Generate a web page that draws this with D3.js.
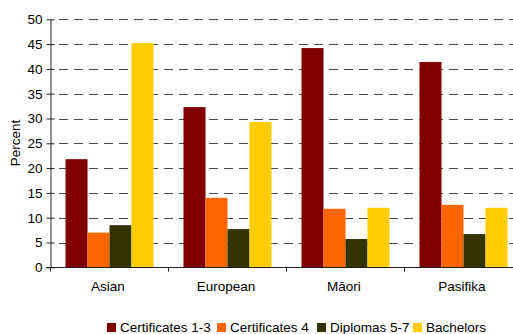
<!DOCTYPE html>
<html>
<head>
<meta charset="utf-8">
<script src="https://cdn.jsdelivr.net/npm/d3@7"></script>
<style>
  body { margin: 0; background: #fff; }
  text { font-family: "Liberation Sans", Arial, sans-serif; fill: #000; }
</style>
</head>
<body>
<div id="chart"></div>
<script>
var groups = ["Asian", "European", "Māori", "Pasifika"];
var seriesNames = ["Certificates 1-3", "Certificates 4", "Diplomas 5-7", "Bachelors"];
var seriesColors = ["#800000", "#ff6600", "#333300", "#ffcc00"];
// values per series, in the order of groups
var cert13 = [21.8, 32.3, 44.2, 41.4];
var cert4 = [7.0, 14.0, 11.8, 12.6];
var dipl57 = [8.5, 7.7, 5.7, 6.7];
var bachelors = [45.2, 29.3, 12.0, 12.0];
var yTicks = [0, 5, 10, 15, 20, 25, 30, 35, 40, 45, 50];

var allSeries = [cert13, cert4, dipl57, bachelors];

var width = 513, height = 334;
var fontSize = "13.5px";
var svg = d3.select("#chart").append("svg")
  .attr("width", width)
  .attr("height", height);

var x0 = d3.scaleBand().domain(groups).range([50, 522]).paddingInner(0).paddingOuter(0);
var x1 = d3.scaleBand().domain(seriesNames).range([15.5, x0.bandwidth() - 14.5]);
var y = d3.scaleLinear().domain([0, 50]).range([267.3, 19.3]);

// gridlines
svg.append("g")
  .selectAll("line")
  .data(yTicks.slice(1))
  .enter().append("line")
  .attr("x1", 55)
  .attr("x2", 522)
  .attr("y1", function(d) { return Math.round(y(d)) + 0.5; })
  .attr("y2", function(d) { return Math.round(y(d)) + 0.5; })
  .attr("stroke", "#4a4a4a")
  .attr("stroke-width", 1)
  .attr("stroke-dasharray", "9,6")
  .attr("stroke-dashoffset", -4);

// bars
for (let s = 0; s < allSeries.length; s++) {
  svg.append("g")
    .selectAll("rect")
    .data(allSeries[s])
    .enter().append("rect")
    .attr("x", function(d, i) { return x0(groups[i]) + x1(seriesNames[s]); })
    .attr("y", function(d) { return y(d); })
    .attr("width", x1.bandwidth())
    .attr("height", function(d) { return y(0) - y(d); })
    .attr("fill", seriesColors[s]);
}

// y axis, ticks cross the axis line
var yAxis = svg.append("g")
  .attr("transform", "translate(50.5,0)")
  .call(d3.axisLeft(y).tickValues(yTicks).tickSize(4).tickSizeOuter(0));
yAxis.select(".domain").attr("stroke", "#222");
yAxis.selectAll(".tick line").attr("stroke", "#222").attr("x2", 4).attr("x1", -4);
yAxis.selectAll(".tick text")
  .attr("x", -8)
  .style("font-size", fontSize)
  .style("font-family", "Liberation Sans, Arial, sans-serif")
  .attr("fill", "#000");

// x axis
var xAxis = svg.append("g")
  .attr("transform", "translate(0," + (Math.round(y(0)) + 0.5) + ")");
xAxis.append("line")
  .attr("x1", 46).attr("x2", 522)
  .attr("stroke", "#222");
xAxis.selectAll(".xtick")
  .data(groups)
  .enter().append("line")
  .attr("class", "xtick")
  .attr("x1", function(d) { return Math.round(x0(d)) + 0.5; })
  .attr("x2", function(d) { return Math.round(x0(d)) + 0.5; })
  .attr("y1", 0).attr("y2", 4)
  .attr("stroke", "#222");
xAxis.selectAll(".xlabel")
  .data(groups)
  .enter().append("text")
  .attr("x", function(d) { return x0(d) + x0.bandwidth() / 2 - 1; })
  .attr("y", 23)
  .attr("text-anchor", "middle")
  .style("font-size", fontSize)
  .text(function(d) { return d; });

// y axis title
svg.append("text")
  .attr("transform", "translate(20,143) rotate(-90)")
  .attr("text-anchor", "middle")
  .style("font-size", fontSize)
  .text("Percent");

// legend
var legendX = [107, 217, 317, 413];
var legend = svg.append("g");
for (let s = 0; s < seriesNames.length; s++) {
  legend.append("rect")
    .attr("x", legendX[s])
    .attr("y", 323)
    .attr("width", 9)
    .attr("height", 9)
    .attr("fill", seriesColors[s]);
  legend.append("text")
    .attr("x", legendX[s] + 13)
    .attr("y", 332)
    .style("font-size", fontSize)
    .text(seriesNames[s]);
}
</script>
</body>
</html>
